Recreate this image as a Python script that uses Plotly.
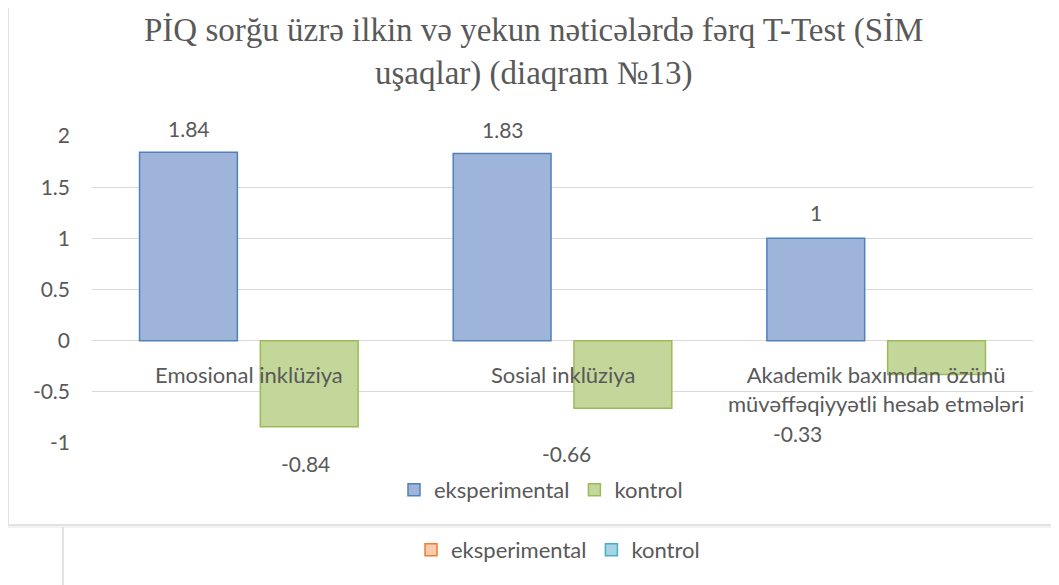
import plotly.graph_objects as go

categories = ["Emosional inklüziya", "Sosial inklüziya",
              "Akademik baxımdan özünü<br>müvəffəqiyyətli hesab etmələri"]
series_names = ["eksperimental", "kontrol"]
eksperimental = [1.84, 1.83, 1.0]
kontrol = [-0.84, -0.66, -0.33]
eksperimental_labels = ["1.84", "1.83", "1"]
kontrol_labels = ["-0.84", "-0.66", "-0.33"]
y_ticks = [-1, -0.5, 0, 0.5, 1, 1.5, 2]
y_tick_labels = ["-1", "-0.5", "0", "0.5", "1", "1.5", "2"]

# label offsets (pixels) – styling only
exp_label_shift = [(-60, 24), (-60, 24), (-60, 26)]
kon_label_shift = [(57, -37), (4, -45), (-79, -59)]

TEXT = "#595959"
FONT = "Lato"

# page body has an 8px margin -> shift figure accordingly
OFF = 8
W, H = 1059 - OFF, 585 - OFF
ML, MT = 92 - OFF, 136 - OFF
PW, PH = 941, 307
MR, MB = W - ML - PW, H - MT - PH


def px(x):
    return (x - 92) / PW


def py(y):
    return (443 - y) / PH


fig = go.Figure()
fig.add_trace(go.Bar(
    name=series_names[0], x=categories, y=eksperimental,
    marker=dict(color="#9fb4d9", line=dict(color="#4f81bd", width=1.5)),
    legend="legend",
))
fig.add_trace(go.Bar(
    name=series_names[1], x=categories, y=kontrol,
    marker=dict(color="#c4d79b", line=dict(color="#9bbb59", width=1.5)),
    legend="legend",
))
# second (empty) chart legend below, on its own hidden axes
fig.add_trace(go.Bar(
    name=series_names[0], x=[None], y=[None], xaxis="x2", yaxis="y2",
    marker=dict(color="#f8cbad", line=dict(color="#ed7d31", width=1.5)),
    legend="legend2",
))
fig.add_trace(go.Bar(
    name=series_names[1], x=[None], y=[None], xaxis="x2", yaxis="y2",
    marker=dict(color="#a5d5e2", line=dict(color="#4bacc6", width=1.5)),
    legend="legend2",
))

annotations = []
for i, cat in enumerate(categories):
    annotations.append(dict(
        x=cat, y=0, xref="x", yref="y", text=cat, showarrow=False,
        yanchor="top", yshift=-18, font=dict(family=FONT, size=22, color=TEXT),
        align="center",
    ))
    dx, dy = exp_label_shift[i]
    annotations.append(dict(
        x=cat, y=eksperimental[i], xref="x", yref="y", text=eksperimental_labels[i],
        showarrow=False, xshift=dx, yshift=dy, yanchor="middle",
        font=dict(family=FONT, size=21, color=TEXT),
    ))
    dx, dy = kon_label_shift[i]
    annotations.append(dict(
        x=cat, y=kontrol[i], xref="x", yref="y", text=kontrol_labels[i],
        showarrow=False, xshift=dx, yshift=dy, yanchor="middle",
        font=dict(family=FONT, size=21, color=TEXT),
    ))

annotations.append(dict(
    x=px(533), y=py(52), xref="paper", yref="paper",
    text="PİQ sorğu üzrə ilkin və yekun nəticələrdə fərq T-Test (SİM<br>uşaqlar) (diaqram №13)",
    showarrow=False, xanchor="center", yanchor="middle",
    font=dict(family="Liberation Serif", size=33, color=TEXT),
))

shapes = [
    dict(type="rect", xref="paper", yref="paper",
         x0=px(8), x1=px(1064), y0=py(525), y1=py(5),
         line=dict(color="#d9d9d9", width=1.5), layer="below"),
    dict(type="line", xref="paper", yref="paper",
         x0=px(8), x1=px(1064), y0=py(527), y1=py(527),
         line=dict(color="#e6e6e6", width=1)),
    dict(type="line", xref="paper", yref="paper",
         x0=px(63), x1=px(63), y0=py(527), y1=py(600),
         line=dict(color="#d9d9d9", width=1.5)),
]

fig.update_layout(
    width=W, height=H,
    margin=dict(l=ML, r=MR, t=MT, b=MB, autoexpand=False),
    paper_bgcolor="white", plot_bgcolor="white",
    barmode="group", bargap=0.23, bargroupgap=0.19,
    font=dict(family=FONT, size=21, color=TEXT),
    xaxis=dict(showticklabels=False, showgrid=False, zeroline=False,
               showline=False, ticks=""),
    yaxis=dict(range=[-1, 2], tickvals=y_ticks, ticktext=y_tick_labels,
               showgrid=True, gridcolor="#d9d9d9", gridwidth=1,
               zeroline=False, showline=False, ticks="",
               ticklabelstandoff=21,
               tickfont=dict(family=FONT, size=21, color=TEXT)),
    xaxis2=dict(visible=False, overlaying="x", domain=[0, 1]),
    yaxis2=dict(visible=False, overlaying="y"),
    legend=dict(orientation="h", x=px(541), y=py(490), xanchor="center",
                yanchor="middle", font=dict(family=FONT, size=22, color=TEXT),
                itemwidth=30, bgcolor="rgba(0,0,0,0)"),
    legend2=dict(orientation="h", x=px(558), y=py(550), xanchor="center",
                 yanchor="middle", font=dict(family=FONT, size=22, color=TEXT),
                 itemwidth=30, bgcolor="rgba(0,0,0,0)"),
    annotations=annotations,
    shapes=shapes,
    showlegend=True,
)

fig.write_html("out.html")
